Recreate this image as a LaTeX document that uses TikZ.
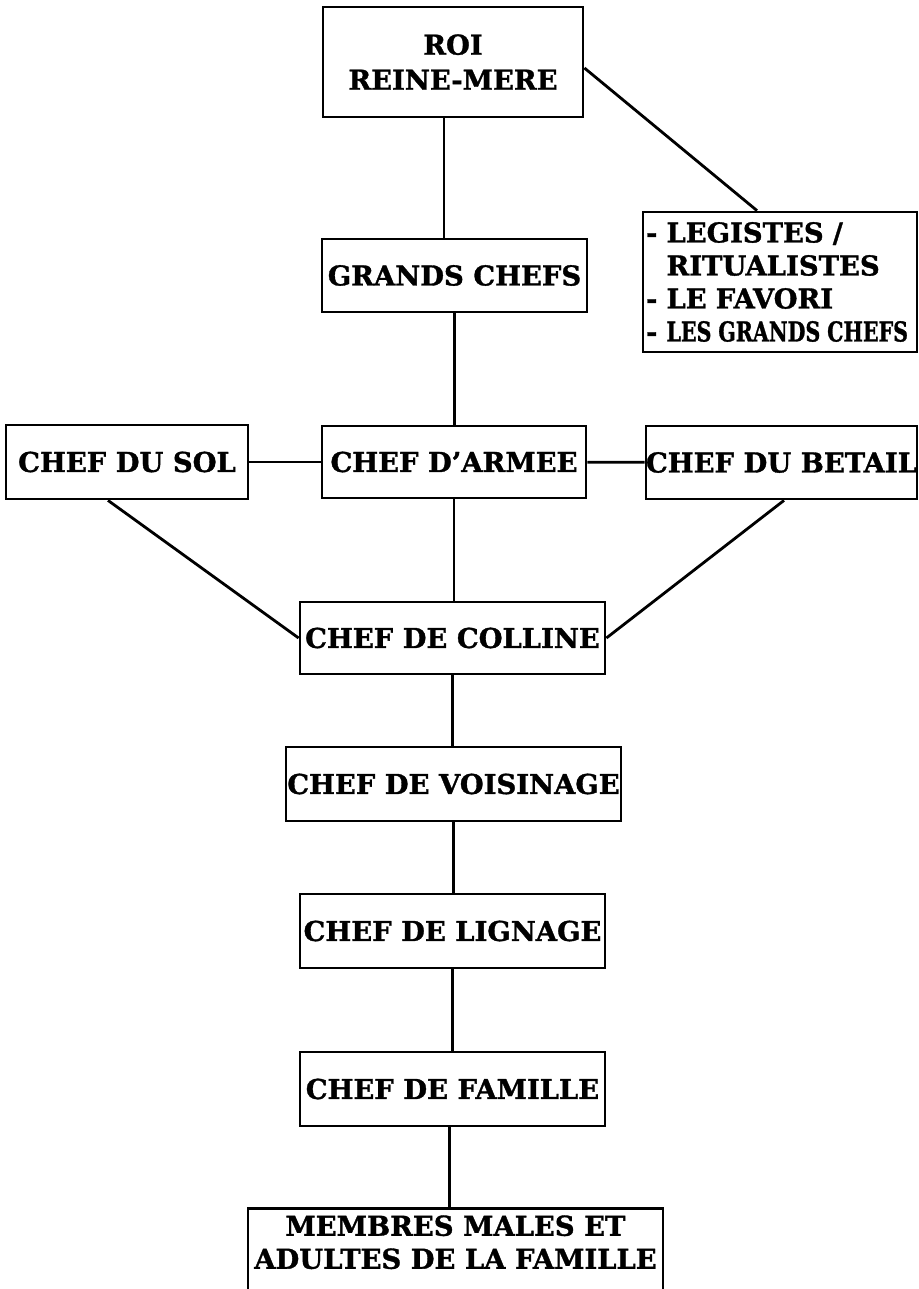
\documentclass[tikz,border=0pt]{standalone}
\usepackage{fontspec}
\setmainfont{DejaVu Serif}[BoldFeatures={FakeBold=1.2}]
\usepackage{graphicx}
\begin{document}
\begin{tikzpicture}[x=1pt,y=-1pt,line width=2.8pt,
  box/.style={draw,inner sep=0pt,align=center,font=\bfseries\fontsize{27.4pt}{33pt}\selectfont}]

\clip (0,0) rectangle (918,1289);

\node (roi) at (453,62) [box,minimum width=260,minimum height=110] {ROI\\[2pt]REINE-MERE};
\node (roles) at (780,282) [box,align=left,text width=268pt,inner xsep=3pt,minimum height=140] {- LEGISTES /\\\phantom{- }RITUALISTES\\- LE FAVORI\\- \mbox{\scalebox{0.75}[1]{LES GRANDS CHEFS}}};
\node (grands) at (454.5,275.5) [box,minimum width=265,minimum height=73] {GRANDS CHEFS};
\node (sol) at (127,462) [box,minimum width=242,minimum height=74] {CHEF DU SOL};
\node (armee) at (454,462) [box,minimum width=264,minimum height=72] {CHEF D'ARMEE};
\node (betail) at (781.5,462.5) [box,minimum width=271,minimum height=73] {CHEF DU BETAIL};
\node (colline) at (452.5,638) [box,minimum width=305,minimum height=72] {CHEF DE COLLINE};
\node (voisinage) at (453.5,784) [box,minimum width=335,minimum height=74] {CHEF DE VOISINAGE};
\node (lignage) at (452.5,931) [box,minimum width=305,minimum height=74] {CHEF DE LIGNAGE};
\node (famille) at (452.5,1089) [box,minimum width=305,minimum height=74] {CHEF DE FAMILLE};
\node (membres) at (455.5,1207) [box,anchor=north,minimum width=415,inner ysep=7pt,text depth=70pt] {MEMBRES MALES ET\\ADULTES DE LA FAMILLE};

\draw ([xshift=-9pt]roi.south) -- ([xshift=-9pt]roi.south |- grands.north);
\draw ([yshift=-6pt]roi.east) -- ([xshift=-23pt]roles.north);
\draw (grands.south) -- (grands.south |- armee.north);
\draw (sol) -- (armee);
\draw (armee) -- (betail);
\draw ([xshift=-19pt]sol.south) -- (colline.west);
\draw ([xshift=2.5pt]betail.south) -- (colline.east);
\draw (armee.south) -- (armee.south |- colline.north);
\draw (colline.south) -- (colline.south |- voisinage.north);
\draw (voisinage.south) -- (voisinage.south |- lignage.north);
\draw (lignage.south) -- (lignage.south |- famille.north);
\draw ([xshift=-3pt]famille.south) -- ([xshift=-3pt]famille.south |- membres.north);
\end{tikzpicture}
\end{document}
